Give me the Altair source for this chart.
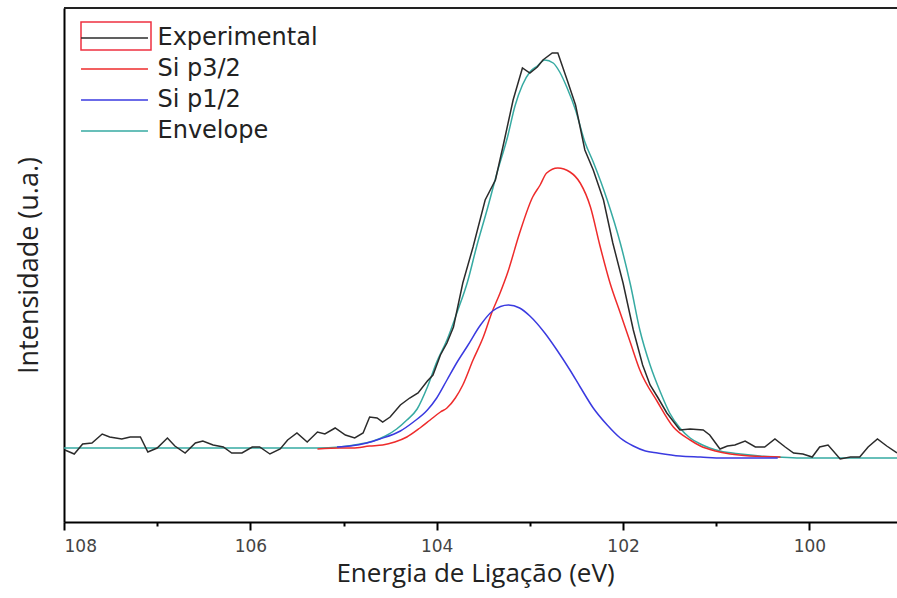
import altair as alt
import pandas as pd

# ---- data (binding energy in eV, intensity in a.u.) ----
exp_ev = [107.99, 107.89, 107.80, 107.70, 107.59, 107.51, 107.38, 107.29, 107.18, 107.10,
          107.00, 106.89, 106.81, 106.70, 106.59, 106.51, 106.40, 106.29, 106.20, 106.09,
          105.98, 105.90, 105.79, 105.68, 105.60, 105.50, 105.39, 105.28, 105.20, 105.09,
          104.98, 104.88, 104.79, 104.72, 104.64, 104.58, 104.50, 104.39, 104.29, 104.20,
          104.10, 104.04, 103.96, 103.89, 103.82, 103.72, 103.61, 103.48, 103.37, 103.29,
          103.18, 103.08, 103.00, 102.92, 102.86, 102.76, 102.70, 102.60, 102.51, 102.41,
          102.32, 102.21, 102.11, 102.00, 101.89, 101.79, 101.71, 101.63, 101.53, 101.39,
          101.28, 101.14, 101.07, 100.96, 100.88, 100.80, 100.69, 100.58, 100.48, 100.37,
          100.26, 100.17, 100.07, 99.97, 99.89, 99.80, 99.67, 99.56, 99.46, 99.37,
          99.27, 99.17, 99.06]
exp_int = [72, 68, 78, 79, 88, 85, 83, 85, 85, 70,
           74, 84, 76, 69, 79, 81, 77, 75, 69, 69,
           75, 75, 68, 73, 82, 89, 80, 90, 88, 94,
           87, 84, 89, 105, 104, 100, 105, 117, 124, 129,
           141, 147, 167, 179, 195, 239, 275, 322, 342, 375,
           422, 454, 449, 455, 462, 469, 469, 442, 417, 372,
           352, 322, 279, 239, 192, 157, 137, 125, 109, 92,
           93, 92, 87, 73, 76, 77, 81, 75, 75, 83,
           75, 69, 68, 65, 75, 77, 63, 65, 65, 75,
           83, 76, 69]

p32_ev = [105.28, 105.04, 104.90, 104.72, 104.58, 104.45, 104.32, 104.18, 104.07, 103.96,
          103.89, 103.80, 103.72, 103.61, 103.50, 103.41, 103.32, 103.24, 103.11, 102.97,
          102.89, 102.82, 102.70, 102.57, 102.46, 102.35, 102.25, 102.14, 102.03, 101.92,
          101.82, 101.63, 101.46, 101.28, 101.17, 101.01, 100.85, 100.64, 100.31]
p32_int = [73, 74, 74, 76, 77, 80, 85, 94, 102, 110,
           114, 124, 137, 162, 185, 209, 229, 249, 289, 325,
           337, 349, 354, 350, 339, 315, 277, 239, 209, 179,
           152, 120, 95, 82, 76, 71, 68, 66, 65]

p12_ev = [105.07, 104.93, 104.75, 104.61, 104.39, 104.25, 104.10, 104.00, 103.89, 103.78,
          103.67, 103.53, 103.40, 103.23, 103.11, 103.00, 102.84, 102.71, 102.57, 102.46,
          102.32, 102.17, 102.03, 101.89, 101.76, 101.63, 101.39, 101.17, 100.93, 100.34]
p12_int = [75, 76, 79, 83, 91, 100, 112, 124, 142, 160,
           176, 197, 211, 217, 214, 206, 189, 172, 152, 135,
           114, 97, 84, 76, 71, 69, 66, 65, 64, 64]

env_ev = [108.00, 105.28, 105.04, 104.82, 104.68, 104.55, 104.43, 104.32, 104.21, 104.10,
          104.00, 103.89, 103.78, 103.67, 103.57, 103.46, 103.35, 103.24, 103.16, 103.08,
          103.00, 102.92, 102.84, 102.75, 102.68, 102.60, 102.51, 102.41, 102.32, 102.17,
          102.03, 101.92, 101.82, 101.71, 101.60, 101.50, 101.39, 101.28, 101.17, 101.07,
          100.96, 100.74, 100.53, 100.35, 100.10, 99.06]
env_int = [74, 74, 75, 78, 81, 86, 93, 102, 113, 135,
           160, 182, 210, 240, 276, 312, 350, 385, 416, 437,
           450, 456, 462, 459, 450, 434, 412, 380, 360, 322,
           279, 237, 192, 157, 130, 109, 94, 84, 78, 74,
           71, 68, 66, 65, 64, 64]

series_names = ["Experimental", "Si p3/2", "Si p1/2", "Envelope"]
series_colors = ["#2b2b2b", "#ee2b2b", "#3a3ae0", "#36aaa2"]
tick_values = [108, 107, 106, 105, 104, 103, 102, 101, 100]

frames = []
for name, xs, ys in [("Experimental", exp_ev, exp_int), ("Si p3/2", p32_ev, p32_int),
                     ("Si p1/2", p12_ev, p12_int), ("Envelope", env_ev, env_int)]:
    frames.append(pd.DataFrame({"ev": xs, "intensity": ys, "serie": name}))
df = pd.concat(frames, ignore_index=True)

W, H = 833, 514
xscale = alt.Scale(domain=[108, 99.06], nice=False, zero=False)
yscale = alt.Scale(domain=[0, 514], nice=False, zero=True)
cscale = alt.Scale(domain=series_names, range=series_colors)

x_main = alt.X("ev:Q", scale=xscale, title="Energia de Ligação (eV)",
               axis=alt.Axis(values=tick_values, format="d", grid=False, orient="bottom",
                             labelExpr="datum.value % 2 === 0 ? datum.label : ''",
                             tickSize={"condition": {"test": "datum.value % 2 === 0", "value": 8},
                                       "value": 4},
                             tickWidth=2, tickColor="black",
                             domainWidth=2, domainColor="black",
                             labelFont="DejaVu Sans", labelFontSize=17, labelColor="#444",
                             labelPadding=8, titleFont="Open Sans", titleFontSize=26,
                             titleFontWeight="normal", titleColor="#222", titlePadding=6,
                             titleX=411))
y_main = alt.Y("intensity:Q", scale=yscale, title="Intensidade (u.a.)",
               axis=alt.Axis(labels=False, ticks=False, grid=False, domainWidth=2,
                             domainColor="black", titleFont="Open Sans", titleFontSize=27,
                             titleFontWeight="normal", titleColor="#222", titlePadding=21))

legend = alt.Legend(title=None, orient="none", legendX=17, legendY=18,
                    symbolType="M-3,0H3", symbolSize=498, symbolStrokeWidth=1.5,
                    symbolOffset=21.5,
                    labelFont="DejaVu Sans", labelFontSize=24, labelColor="#222",
                    labelLimit=400, labelOffset=31, rowPadding=7)

layers = []
for name in ["Envelope", "Si p3/2", "Si p1/2", "Experimental"]:
    interp = "linear" if name == "Experimental" else "monotone"
    layers.append(
        alt.Chart(df).transform_filter(alt.datum.serie == name)
        .mark_line(strokeWidth=1.5, interpolate=interp).encode(
            x=x_main, y=y_main,
            color=alt.Color("serie:N", scale=cscale, legend=legend),
            order="ev:Q")
    )

top_border = alt.Chart(pd.DataFrame({"a": [0]})).mark_rule(color="#222", strokeWidth=2).encode(
    x=alt.value(0), x2=alt.value(W), y=alt.value(0))

legend_box = alt.Chart(pd.DataFrame({"a": [0]})).mark_rect(
    fill=None, stroke="#ee3040", strokeWidth=1.5, filled=False).encode(
    x=alt.value(17), x2=alt.value(87), y=alt.value(14), y2=alt.value(42))

chart = alt.layer(*layers, top_border, legend_box).properties(
    width=W, height=H,
    autosize=alt.AutoSizeParams(type="none"),
    padding={"left": 64, "top": 8, "right": 0, "bottom": 76},
).configure_view(stroke=None).configure(background="white")

chart.save("out.html", embed_options={"renderer": "svg", "actions": False})
